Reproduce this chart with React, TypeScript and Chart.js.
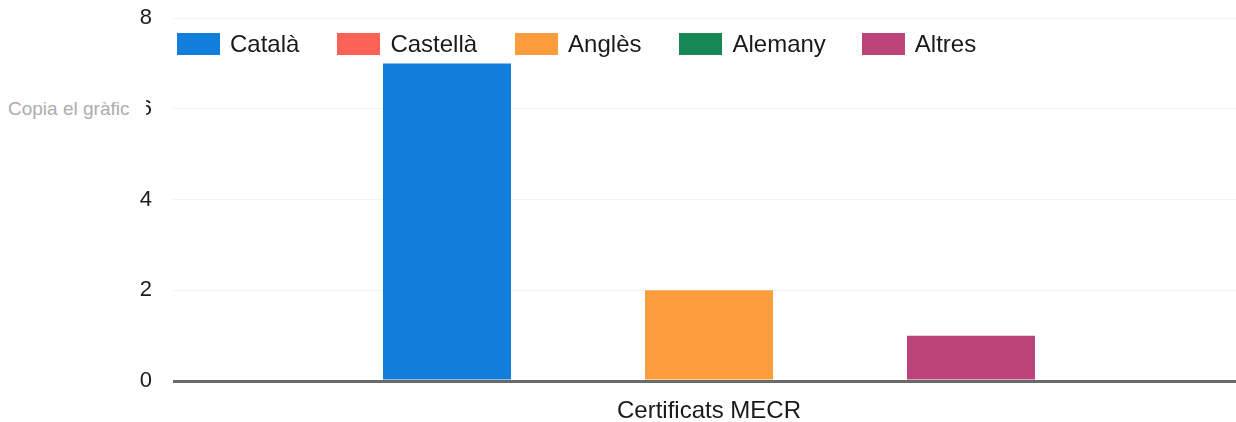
import React, { useEffect, useRef } from "react";
import { Chart, registerables } from "chart.js";

Chart.register(...registerables);

const categories = ["Certificats MECR"];
const seriesNames = ["Català", "Castellà", "Anglès", "Alemany", "Altres"];
const seriesValues = [[7], [0], [2], [0], [1]];
const seriesColors = ["#137ddb", "#fc6255", "#fb9c3d", "#178755", "#bb4479"];
const yTicks = [0, 2, 4, 6, 8];

const FONT = "'Liberation Sans', Arial, sans-serif";

export default function App() {
  const canvasRef = useRef<HTMLCanvasElement | null>(null);

  useEffect(() => {
    const canvas = canvasRef.current;
    if (!canvas) return;
    const chart = new Chart(canvas, {
      type: "bar",
      data: {
        labels: categories,
        datasets: seriesNames.map((name, i) => ({
          label: name,
          data: seriesValues[i],
          backgroundColor: seriesColors[i],
          borderWidth: 0,
          categoryPercentage: 0.611,
          barPercentage: 0.977,
        })),
      },
      options: {
        responsive: false,
        animation: false,
        devicePixelRatio: 1,
        layout: { padding: { top: 18, bottom: 0, left: 0, right: 0 } },
        plugins: {
          legend: { display: false },
          tooltip: { enabled: false },
        },
        scales: {
          x: {
            afterFit: (scale: any) => {
              scale.height = 41;
              scale.paddingLeft = 0;
              scale.paddingRight = 0;
              scale.paddingTop = 0;
              scale.paddingBottom = 0;
            },
            grid: { display: false },
            border: { display: false },
            ticks: {
              color: "#1a1a1a",
              padding: 8,
              font: { family: FONT, size: 24 },
            },
          },
          y: {
            min: 0,
            max: 8,
            afterFit: (scale: any) => {
              scale.width = 173;
              scale.paddingTop = 0;
              scale.paddingBottom = 0;
            },
            afterBuildTicks: (scale: any) => {
              scale.ticks = yTicks.map((v) => ({ value: v }));
            },
            border: { display: false },
            grid: {
              drawTicks: false,
              color: (ctx: any) => (ctx.tick && ctx.tick.value === 0 ? "#6a6a6a" : "#f3f3f3"),
              lineWidth: (ctx: any) => (ctx.tick && ctx.tick.value === 0 ? 3 : 1),
            },
            ticks: {
              color: "#1a1a1a",
              padding: 21,
              font: { family: FONT, size: 22 },
            },
          },
        },
      },
    });
    return () => chart.destroy();
  }, []);

  return (
    <div
      style={{
        position: "fixed",
        left: 0,
        top: 0,
        width: 1236,
        height: 422,
        overflow: "hidden",
        background: "#fff",
      }}
    >
      <div style={{ position: "relative", width: 1245, height: 422 }}>
        <canvas ref={canvasRef} width={1245} height={422} style={{ display: "block" }} />
        <div
          style={{
            position: "absolute",
            left: 177,
            top: 33,
            display: "flex",
            alignItems: "center",
            fontFamily: FONT,
            fontSize: 24,
            color: "#1a1a1a",
            lineHeight: "22px",
          }}
        >
          {seriesNames.map((name, i) => (
            <div key={name} style={{ display: "flex", alignItems: "center", marginRight: i === 3 ? 36 : 38 }}>
              <span
                style={{
                  display: "inline-block",
                  width: 43,
                  height: 22,
                  background: seriesColors[i],
                  marginRight: 10,
                }}
              />
              <span>{name}</span>
            </div>
          ))}
        </div>
        <div
          style={{
            position: "absolute",
            left: 8,
            top: 97,
            width: 138,
            height: 24,
            background: "#fff",
            fontFamily: FONT,
            fontSize: 19,
            lineHeight: "24px",
            color: "#a9adb2",
            whiteSpace: "nowrap",
          }}
        >
          Copia el gràfic
        </div>
      </div>
    </div>
  );
}
